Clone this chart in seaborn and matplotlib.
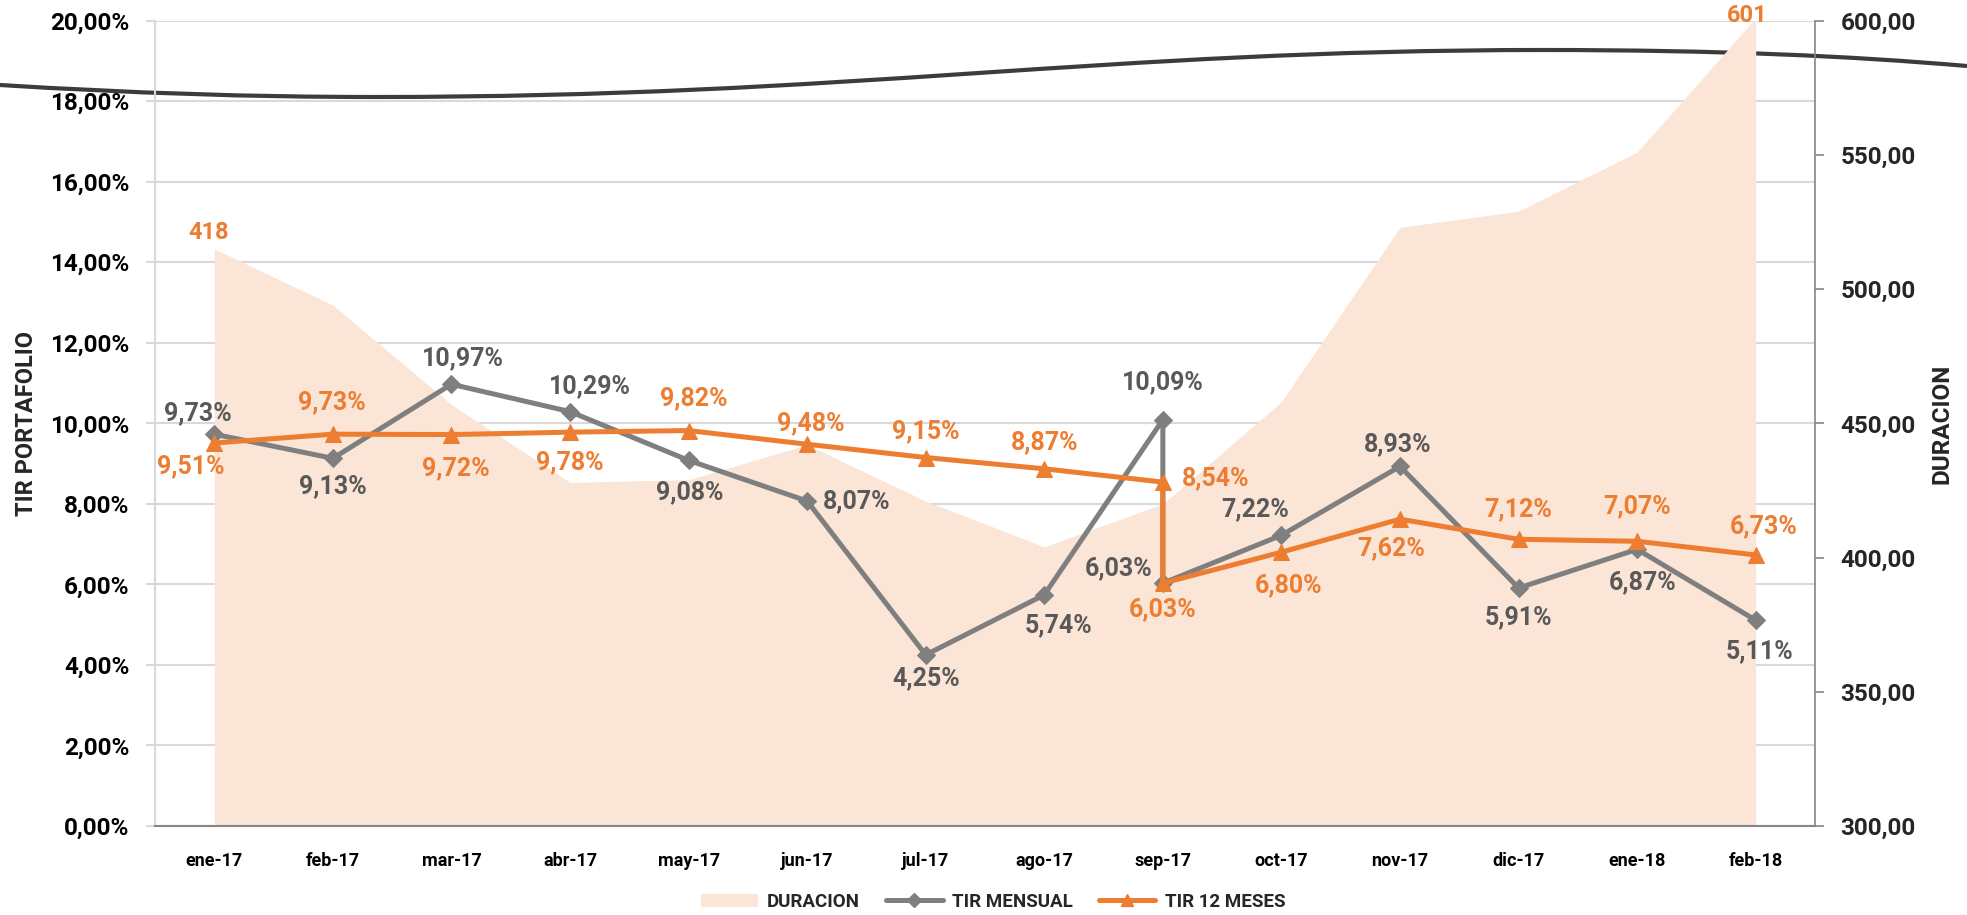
import matplotlib
matplotlib.use("Agg")
import matplotlib.pyplot as plt
from matplotlib.path import Path
from matplotlib.patches import PathPatch, Patch
from matplotlib.lines import Line2D
from matplotlib.ticker import FuncFormatter, FixedLocator
import seaborn as sns

# data
months = ["ene-17", "feb-17", "mar-17", "abr-17", "may-17", "jun-17", "jul-17",
          "ago-17", "sep-17", "oct-17", "nov-17", "dic-17", "ene-18", "feb-18"]
duracion = [515, 494, 457, 428, 429, 442, 421, 404, 420, 458, 523, 529, 551, 601]
duracion_labels = ["418", "", "", "", "", "", "", "", "", "", "", "", "", "601"]

# sep-17 has two readings in both TIR series
tir_months = months[:9] + ["sep-17"] + months[9:]
tir_mensual = [9.73, 9.13, 10.97, 10.29, 9.08, 8.07, 4.25, 5.74, 10.09, 6.03,
               7.22, 8.93, 5.91, 6.87, 5.11]
tir_12m = [9.51, 9.73, 9.72, 9.78, 9.82, 9.48, 9.15, 8.87, 8.54, 6.03,
           6.80, 7.62, 7.12, 7.07, 6.73]

# label offsets (points)
off_mensual = [(-12, 15), (0, -20), (8, 19), (14, 18), (1, -23), (36, 0), (0, -17),
               (10, -22), (0, 27), (-32, 11), (-19, 19), (-2, 16), (0, -21), (4, -24), (3, -22)]
off_12m = [(-17, -17), (-1, 23), (3, -24), (0, -22), (4, 23), (3, 15), (0, 19),
           (0, 19), (38, 3), (0, -19), (5, -24), (-6, -21), (0, 22), (0, 25), (6, 21)]
off_dur = [(-4, 12), (-6, 4)]

GRAY = "#7F7F7F"
GRAY_TXT = "#595959"
ORANGE = "#ED7D31"
PEACH = "#FBE5D6"
AXIS = "#868686"
GRID = "#D9D9D9"

sns.set_theme(style="white")
plt.rcParams["font.family"] = ["Roboto", "DejaVu Sans"]
plt.rcParams["font.weight"] = "bold"

W, H = 1967, 915
fig = plt.figure(figsize=(W / 100, H / 100), dpi=100)
rect = [155 / W, 1 - 826 / H, 1660 / W, 805.4 / H]

ax_grid = fig.add_axes(rect)
ax_grid.patch.set_visible(False)
ax2 = ax_grid.twinx()
ax = fig.add_axes(rect, sharex=ax_grid, sharey=ax_grid)
ax.patch.set_visible(False)
ax_grid.set_zorder(0)
ax2.set_zorder(1)
ax.set_zorder(2)

xpos = list(range(len(months)))
tir_x = [months.index(m) for m in tir_months]

# duration area on the right axis
ax2.fill_between(xpos, duracion, 300, color=PEACH, lw=0)
for i, lab in enumerate(duracion_labels):
    if lab:
        dx, dy = off_dur[0] if i == 0 else off_dur[1]
        ax2.annotate(lab, (xpos[i], min(duracion[i], 600)), xytext=(dx, dy),
                     textcoords="offset points", ha="center", va="center",
                     color=ORANGE, fontsize=17, fontweight="bold", annotation_clip=False)

# lines
sns.lineplot(x=tir_x, y=tir_mensual, ax=ax, estimator=None, sort=False, color=GRAY,
             lw=3.6, marker="D", markersize=9, markeredgecolor=GRAY, zorder=3)
sns.lineplot(x=tir_x, y=tir_12m, ax=ax, estimator=None, sort=False, color=ORANGE,
             lw=3.6, marker="^", markersize=11, markeredgecolor=ORANGE, zorder=4)

for x, v, (dx, dy) in zip(tir_x, tir_mensual, off_mensual):
    ax.annotate(f"{v:.2f}%".replace(".", ","), (x, v), xytext=(dx, dy),
                textcoords="offset points", ha="center", va="center",
                color=GRAY_TXT, fontsize=18, fontweight="bold", zorder=5)
for x, v, (dx, dy) in zip(tir_x, tir_12m, off_12m):
    ax.annotate(f"{v:.2f}%".replace(".", ","), (x, v), xytext=(dx, dy),
                textcoords="offset points", ha="center", va="center",
                color=ORANGE, fontsize=18, fontweight="bold", zorder=5)

# axes cosmetics
ax.set_xlim(-0.5, len(months) - 0.5)
ax.set_ylim(0, 20)
ax.yaxis.set_major_locator(FixedLocator([0, 2, 4, 6, 8, 10, 12, 14, 16, 18, 20]))
ax.yaxis.set_major_formatter(FuncFormatter(lambda v, _: f"{v:.2f}%".replace(".", ",")))
ax.set_xticks(xpos)
ax.set_xticklabels(months)
ax.xaxis.set_minor_locator(FixedLocator([i - 0.5 for i in range(len(months) + 1)]))
ax.tick_params(axis="x", which="major", length=0, pad=19, labelsize=13)
ax.tick_params(axis="x", which="minor", length=6, width=1.2, color=AXIS, direction="out")
ax.tick_params(axis="y", length=6.5, width=1.5, color=GRID, pad=12, labelsize=17.5,
               direction="out", left=True)
for lab in ax.get_xticklabels() + ax.get_yticklabels():
    lab.set_fontweight("bold")
    lab.set_color("black")
for s in ["top", "right"]:
    ax.spines[s].set_visible(False)
ax.spines["left"].set_color(GRID)
ax.spines["left"].set_linewidth(1.5)
ax.spines["bottom"].set_color(AXIS)
ax.spines["bottom"].set_linewidth(1.5)
ax.set_xlabel("")
ax.set_ylabel("")

ax_grid.grid(axis="y", color=GRID, lw=1.5)
ax_grid.grid(axis="x", visible=False)
ax_grid.tick_params(left=False, bottom=False, labelleft=False, labelbottom=False)
for s in ax_grid.spines.values():
    s.set_visible(False)

ax2.set_ylim(300, 600)
ax2.yaxis.set_major_locator(FixedLocator([300, 350, 400, 450, 500, 550, 600]))
ax2.yaxis.set_major_formatter(FuncFormatter(lambda v, _: f"{v:.2f}".replace(".", ",")))
ax2.tick_params(axis="y", length=6.5, width=1.2, color=AXIS, pad=12, labelsize=17.5,
                direction="out", right=True)
for lab in ax2.get_yticklabels():
    lab.set_fontweight("bold")
ax2.grid(False)
for s in ["top", "left", "bottom"]:
    ax2.spines[s].set_visible(False)
ax2.spines["right"].set_color(AXIS)
ax2.spines["right"].set_linewidth(1.2)

fig.text(26.7 / W, 1 - 424 / H, "TIR PORTAFOLIO", rotation=90, ha="center", va="center",
         fontsize=17, fontweight="bold")
fig.text(1942 / W, 1 - 424 / H, "DURACION", rotation=90, ha="center", va="center",
         fontsize=17.5, fontweight="bold")

# decorative swoosh across the top
pts = [(0, 85), (130, 93), (250, 97), (376, 97), (850, 97), (1100, 50), (1543, 50),
       (1720, 50), (1850, 56), (1967, 66)]
verts = [(x / W, 1 - y / H) for x, y in pts]
codes = [Path.MOVETO] + [Path.CURVE4] * 9
fig.patches.append(PathPatch(Path(verts, codes), transform=fig.transFigure, fill=False,
                             edgecolor="#3C3C3C", lw=3, zorder=-1))

handles = [Patch(facecolor=PEACH, edgecolor="none"),
           Line2D([], [], color=GRAY, lw=3.6, marker="D", markersize=7),
           Line2D([], [], color=ORANGE, lw=3.6, marker="^", markersize=8)]
fig.legend(handles, ["DURACION", "TIR MENSUAL", "TIR 12 MESES"], loc="center",
           bbox_to_anchor=(0.505, 1 - 902 / H), ncol=3, frameon=False,
           prop={"size": 13.5, "weight": "bold"}, handlelength=3.0, columnspacing=1.4,
           handletextpad=0.5)

fig.savefig("out.png", dpi=100)
